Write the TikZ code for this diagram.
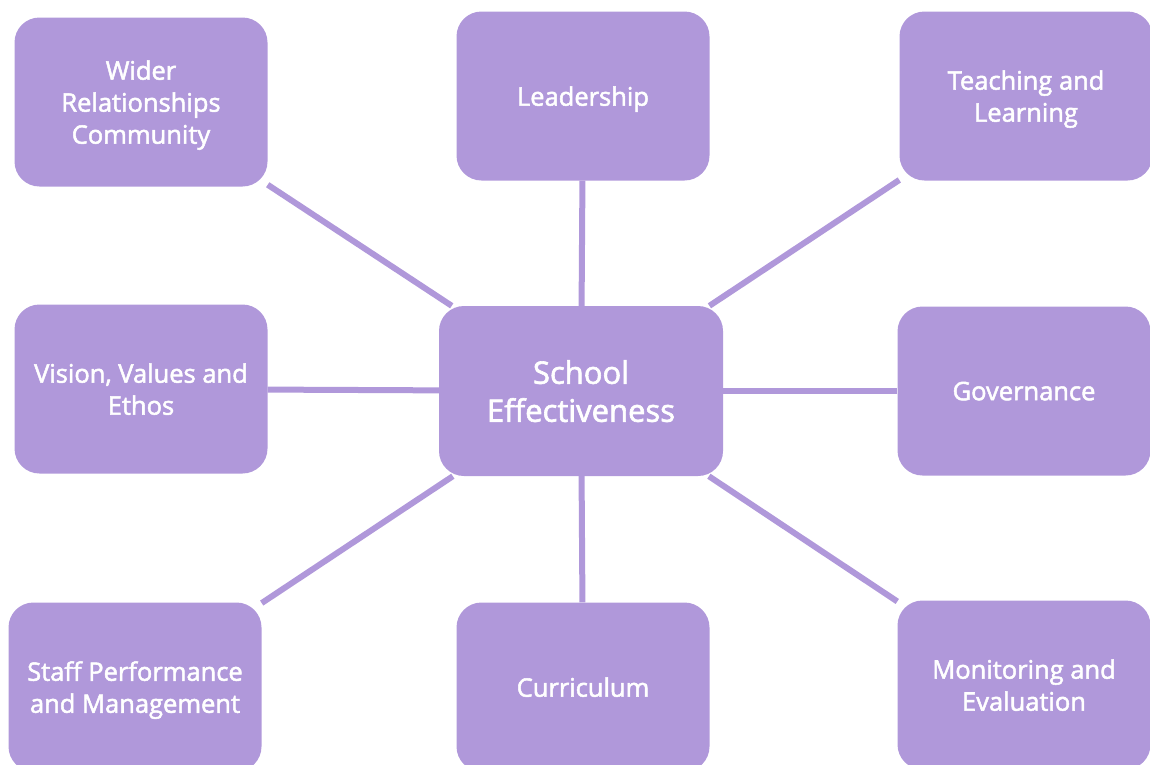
\documentclass[tikz,border=0pt]{standalone}
\usepackage{fontspec}
\setmainfont{Open Sans}[UprightFeatures={FakeBold=2}]
\definecolor{lilas}{HTML}{B098DA}
\tikzset{
  caixa/.style={fill=lilas, draw=none, rounded corners=25pt, minimum width=253pt,
    minimum height=169pt, text=white, align=center, inner sep=0pt, text depth=0pt,
    font=\fontsize{25.5}{32}\selectfont},
  ligacao/.style={draw=lilas, line width=6pt}
}
\begin{document}
\begin{tikzpicture}[x=1pt,y=-1pt]
\useasboundingbox (0,0) rectangle (1150,764);

% Caixa central
\node[caixa, minimum width=284pt, minimum height=170pt,
  font=\fontsize{31}{38}\selectfont] (escola) at (581,391) {School\\Effectiveness};

% Caixas de cima
\node[caixa] (comunidade) at (141,102) {Wider\\Relationships\\Community};
\node[caixa] (lideranca) at (583,96) {Leadership};
\node[caixa] (ensino) at (1026,96) {Teaching and\\Learning};

% Caixas do meio
\node[caixa] (visao) at (141,389) {Vision, Values and\\Ethos};
\node[caixa] (governo) at (1024,391) {Governance};

% Caixas de baixo
\node[caixa] (pessoal) at (135,687) {Staff Performance\\and Management};
\node[caixa] (curriculo) at (583,687) {Curriculum};
\node[caixa] (avaliacao) at (1024,685) {Monitoring and\\Evaluation};

% Ligacoes ao centro
\draw[ligacao] (comunidade) -- (escola);
\draw[ligacao] (lideranca) -- (escola);
\draw[ligacao] (ensino) -- (escola);
\draw[ligacao] (visao) -- (escola);
\draw[ligacao] (governo) -- (escola);
\draw[ligacao] (pessoal) -- (escola);
\draw[ligacao] (curriculo) -- (escola);
\draw[ligacao] (avaliacao) -- (escola);

\end{tikzpicture}
\end{document}
